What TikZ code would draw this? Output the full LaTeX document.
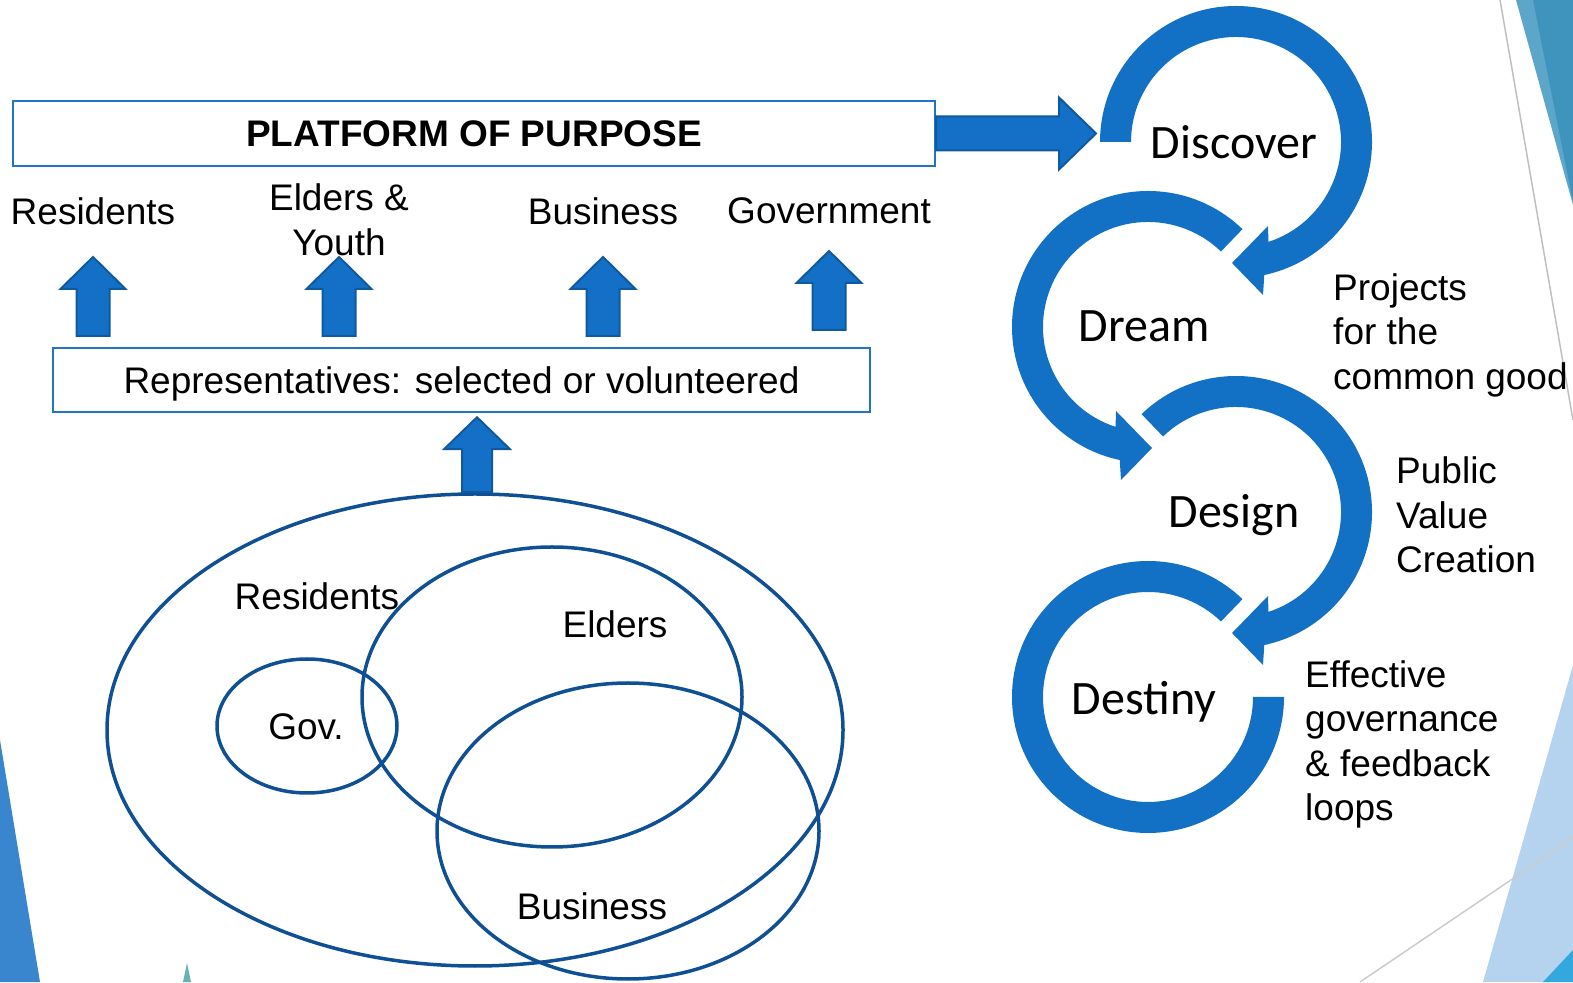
\documentclass[tikz,border=0pt]{standalone}
\usepackage{fontspec}
\setmainfont{Liberation Sans}
\newfontfamily\phasefont{Carlito}
\usepackage{tikz}
\usetikzlibrary{shapes.geometric,calc}
\definecolor{ringblue}{HTML}{1270C5}
\definecolor{arrowfill}{HTML}{1370C6}
\definecolor{arrowedge}{HTML}{0F5A9E}
\definecolor{boxedge}{HTML}{2173C6}
\definecolor{vennblue}{HTML}{0F4F93}
\definecolor{sideblue}{HTML}{3A86CE}
\definecolor{tealdark}{HTML}{3F94BD}
\definecolor{teallight}{HTML}{5BA6C9}
\definecolor{paleblue}{HTML}{B5D3EE}
\definecolor{skyblue}{HTML}{33A8DF}
\tikzstyle{every node}=[inner sep=0pt]
\tikzstyle{lbl}=[font=\fontsize{37}{44.5}\selectfont, align=center]
\tikzstyle{side}=[font=\fontsize{37}{44.5}\selectfont, align=left, anchor=west]
\tikzstyle{phase}=[font=\phasefont\fontsize{48}{56}\selectfont]
\tikzstyle{band}=[draw=boxedge, line width=2pt, text height=26.5pt, text depth=0pt]
\tikzstyle{venn}=[ellipse, draw=vennblue, line width=3.5pt]
\tikzstyle{blockarrow}=[fill=arrowfill, draw=arrowedge, line width=2pt, line join=miter]
\tikzstyle{ring}=[fill=ringblue]

\begin{document}
\begin{tikzpicture}[x=1pt,y=1pt]
        \useasboundingbox (0,0) rectangle (1573,982);
        % slide decoration
        \fill[sideblue] (0,242) -- (40,0) -- (0,0) -- cycle;
        \fill[teal!60!white] (183,0) -- (187,19) -- (191,0) -- cycle;
        \fill[teallight] (1516,982) -- (1573,982) -- (1573,777) -- cycle;
        \fill[tealdark] (1533,982) -- (1573,982) -- (1573,780) -- cycle;
        \draw[black!25, line width=1.5pt] (1500,982) -- (1573,562);
        \fill[paleblue] (1573,317) -- (1483,0) -- (1573,0) -- cycle;
        \draw[black!20, line width=1.5pt] (1360,0) -- (1573,144);
        \fill[skyblue] (1543,0) -- (1573,32) -- (1573,0) -- cycle;

        % boxes and labels
        \node[band, minimum width=922pt, minimum height=65pt, font=\bfseries\fontsize{37}{44.5}\selectfont] (platform) at (474,848.5) {PLATFORM OF PURPOSE};
        \node[band, minimum width=817pt, minimum height=64pt, font=\fontsize{37}{44.5}\selectfont] (rep) at (461.5,602) {Representatives: selected or volunteered};
        \node[lbl] (lres) at (93,771) {Residents};
        \node[lbl] (leld) at (339,762) {Elders \&\\Youth};
        \node[lbl] (lbus) at (603,771) {Business};
        \node[lbl] (lgov) at (829,771) {Government};

        % up arrows
        \coordinate (a1) at ([yshift=11pt]rep.north -| lres);
        \coordinate (a2) at ([yshift=11pt]rep.north -| leld);
        \coordinate (a3) at ([yshift=11pt]rep.north -| lbus);
        \coordinate (a4) at ([yshift=17pt]rep.north -| lgov);
        \draw[blockarrow] (a1) ++(-16.5,0) -- ++(0,47) -- ++(-16,0) -- ++(32.5,32) -- ++(32.5,-32) -- ++(-16,0) -- ++(0,-47) -- cycle;
        \draw[blockarrow] (a2) ++(-16.5,0) -- ++(0,47) -- ++(-16,0) -- ++(32.5,32) -- ++(32.5,-32) -- ++(-16,0) -- ++(0,-47) -- cycle;
        \draw[blockarrow] (a3) ++(-16.5,0) -- ++(0,47) -- ++(-16,0) -- ++(32.5,32) -- ++(32.5,-32) -- ++(-16,0) -- ++(0,-47) -- cycle;
        \draw[blockarrow] (a4) ++(-16.5,0) -- ++(0,47) -- ++(-16,0) -- ++(32.5,32) -- ++(32.5,-32) -- ++(-16,0) -- ++(0,-47) -- cycle;

        % venn of the community
        \node[venn, minimum width=736pt, minimum height=472pt] (venn) at (475,252) {};
        \node[venn, minimum width=180pt, minimum height=134pt] (vgov) at (307,256) {};
        \node[venn, minimum width=380pt, minimum height=300pt] (veld) at (552,285) {};
        \node[venn, minimum width=382pt, minimum height=296pt] (vbus) at (628,151) {};
        \node[lbl] (tres) at (317,386) {Residents};
        \node[lbl] (teld) at (615,358) {Elders};
        \node[lbl] (tgov) at (306,255) {Gov.};
        \node[lbl] (tbus) at (592,76) {Business};
        \coordinate (v0) at ([xshift=2pt]venn.north);
        \draw[blockarrow] (v0) ++(-15,0) -- ++(0,43) -- ++(-18,0) -- ++(33,32) -- ++(33,-32) -- ++(-18,0) -- ++(0,-43) -- cycle;

        % 4-D cycle
        \coordinate (c1) at (1236,840);
        \coordinate (c2) at (1148,655);
        \coordinate (c3) at (1236,470);
        \coordinate (c4) at (1148,285);
        \coordinate (p0) at (platform.east);
        \draw[blockarrow] (p0) ++(0,-17) -- ++(123,0) -- ++(0,-19) -- ++(37,36) -- ++(-37,36) -- ++(0,-19) -- ++(-123,0) -- cycle;
        \fill[ring] ($(c1)+(180:136)$) arc[start angle=180, end angle=-78, radius=136] -- ($(c1)+(27,-153)$) -- ($(c1)+(-4,-121)$) -- ($(c1)+(32,-84)$) -- ($(c1)+(-72:105)$) arc[start angle=-72, end angle=180, radius=105] -- cycle;
        \fill[ring] ($(c2)+(46:136)$) arc[start angle=46, end angle=258, radius=136] -- ($(c2)+(-27,-153)$) -- ($(c2)+(4,-121)$) -- ($(c2)+(-32,-84)$) -- ($(c2)+(252:105)$) arc[start angle=252, end angle=46, radius=105] -- cycle;
        \fill[ring] ($(c3)+(134:136)$) arc[start angle=134, end angle=-78, radius=136] -- ($(c3)+(27,-153)$) -- ($(c3)+(-4,-121)$) -- ($(c3)+(32,-84)$) -- ($(c3)+(-72:105)$) arc[start angle=-72, end angle=134, radius=105] -- cycle;
        \fill[ring] ($(c4)+(46:136)$) arc[start angle=46, end angle=360, radius=136] -- ($(c4)+(0:105)$) arc[start angle=360, end angle=46, radius=105] -- cycle;
        \node[phase] (discover) at (1234,840) {Discover};
        \node[phase] (dream) at (1144,656) {Dream};
        \node[phase] (design) at (1234,467) {Design};
        \node[phase] (destiny) at (1144,280) {Destiny};
        \node[side] (proj) at (1333,647) {Projects\\for the\\common good};
        \node[side] (pub) at (1396,467) {Public\\Value\\Creation};
        \node[side] (eff) at (1305,237.5) {Effective\\governance\\\& feedback\\loops};
\end{tikzpicture}
\end{document}
